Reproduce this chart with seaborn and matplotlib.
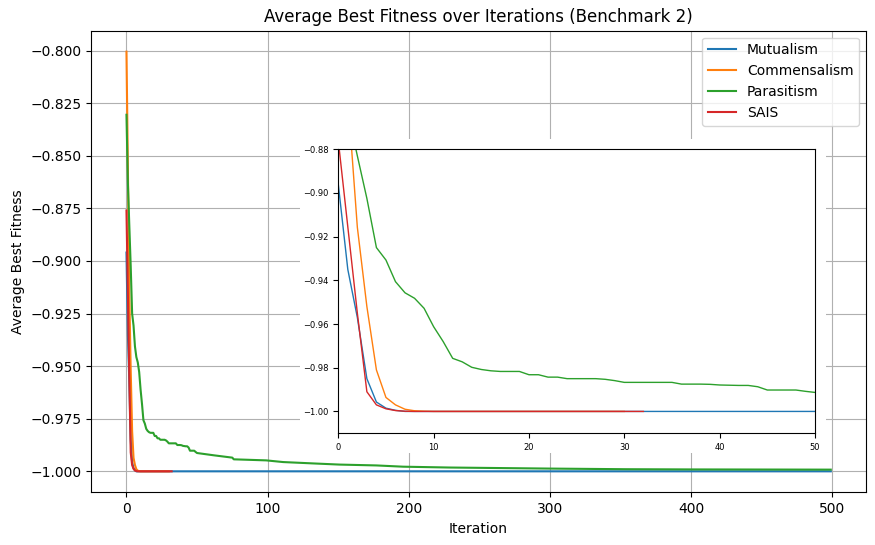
import numpy as np
import seaborn as sns
import matplotlib
matplotlib.use("Agg")
import matplotlib.pyplot as plt
from matplotlib.patches import Rectangle

# values (iteration, average best fitness)
mutualism_iter = [0, 1, 2, 3, 4, 5, 6, 7, 499]
mutualism_fit = [-0.896, -0.935, -0.957, -0.985, -0.9957, -0.9985, -0.9995, -1.0, -1.0]

commensalism_iter = [0, 1, 2, 3, 4, 5, 6, 7, 8, 9, 10, 30]
commensalism_fit = [-0.8005, -0.856, -0.9157, -0.952, -0.981, -0.9936, -0.997,
                    -0.999, -0.9997, -0.9999, -1.0, -1.0]

parasitism_iter = list(range(51)) + [62, 75, 76, 99, 111, 134, 151, 177, 196, 229,
                                     300, 354, 400, 499]
parasitism_fit = [-0.8305, -0.863, -0.883, -0.9025, -0.925, -0.9307, -0.9406, -0.9457,
                  -0.9482, -0.9528, -0.9612, -0.968, -0.9757, -0.9773, -0.9798, -0.9808,
                  -0.9814, -0.9817, -0.9817, -0.9817, -0.9832, -0.9832, -0.9843, -0.9843,
                  -0.985, -0.985, -0.985, -0.985, -0.9853, -0.9859, -0.9867, -0.9867,
                  -0.9867, -0.9867, -0.9867, -0.9867, -0.9875, -0.9875, -0.9875, -0.9876,
                  -0.9879, -0.988, -0.9881, -0.9881, -0.9887, -0.9902, -0.9902, -0.9902,
                  -0.9902, -0.9908, -0.9913,
                  -0.9924, -0.9935, -0.9943, -0.9948, -0.9956, -0.9963, -0.9968, -0.9972,
                  -0.9978, -0.9982, -0.9987, -0.999, -0.9991, -0.9992]

sais_iter = [0, 1, 2, 3, 4, 5, 6, 7, 8, 32]
sais_fit = [-0.876, -0.9155, -0.955, -0.991, -0.997, -0.9988, -0.9996, -0.9999, -1.0, -1.0]

series = [
    ("Mutualism", mutualism_iter, mutualism_fit),
    ("Commensalism", commensalism_iter, commensalism_fit),
    ("Parasitism", parasitism_iter, parasitism_fit),
    ("SAIS", sais_iter, sais_fit),
]
colors = sns.color_palette("tab10", 4)

fig = plt.figure(figsize=(8.75, 5.45), dpi=100)
ax = fig.add_axes([0.1043, 0.0967, 0.8854, 0.847])

for (name, xs, ys), c in zip(series, colors):
    sns.lineplot(x=xs, y=ys, ax=ax, color=c, label=name, linewidth=1.5)

ax.set_title("Average Best Fitness over Iterations (Benchmark 2)", fontsize=12)
ax.set_xlabel("Iteration")
ax.set_ylabel("Average Best Fitness")
ax.grid(True)
ax.legend(loc="upper right")

# white backing behind the zoomed inset
fig.patches.append(Rectangle((0.3429, 0.1688), 0.601, 0.576, transform=fig.transFigure,
                             facecolor="white", edgecolor="none", zorder=1))

axins = fig.add_axes([0.3866, 0.2050, 0.5448, 0.5211], zorder=2)
for (name, xs, ys), c in zip(series, colors):
    sns.lineplot(x=xs, y=ys, ax=axins, color=c, linewidth=1.0, legend=False)
axins.set_xlim(0, 50)
axins.set_ylim(-1.01, -0.88)
axins.tick_params(labelsize=6)

plt.savefig("out.png", dpi=100)
